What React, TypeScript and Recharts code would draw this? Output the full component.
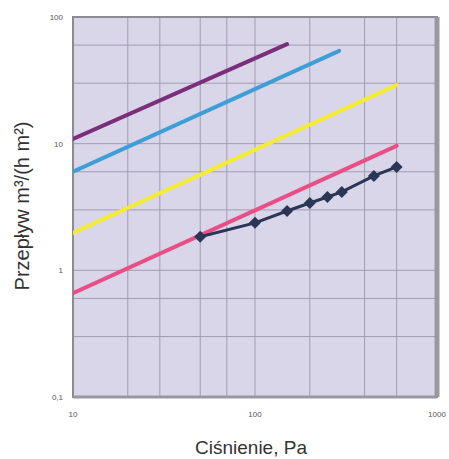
import React from 'react';
import { LineChart, Line, XAxis, YAxis, CartesianGrid, ReferenceLine, ReferenceArea } from 'recharts';

const xTicks = [10, 100, 1000];
const yTicks = [0.1, 1, 10, 100];
const yTickLabels: Record<string, string> = { '0.1': '0,1', '1': '1', '10': '10', '100': '100' };

const xGrid = [10, 20, 30, 40, 50, 60, 70, 80, 90, 100, 200, 300, 400, 500, 600, 700, 800, 900, 1000];
const yGrid = [0.1, 0.2, 0.3, 0.4, 0.5, 0.6, 0.7, 0.8, 0.9, 1, 2, 3, 4, 5, 6, 7, 8, 9, 10, 20, 30, 40, 50, 60, 70, 80, 90, 100];

const purple = [{ x: 10, y: 10.9 }, { x: 150, y: 61 }];
const blue = [{ x: 10, y: 6.0 }, { x: 290, y: 54 }];
const yellow = [{ x: 10, y: 1.97 }, { x: 600, y: 29 }];
const pink = [{ x: 10, y: 0.66 }, { x: 600, y: 9.6 }];

const measuredX = [50, 100, 150, 200, 250, 300, 450, 600];
const measuredY = [1.84, 2.37, 2.94, 3.4, 3.79, 4.16, 5.56, 6.55];
const measured = measuredX.map((x, i) => ({ x, y: measuredY[i] }));

const FONT = 'Liberation Sans, Arial, sans-serif';

const Diamond = (props: any) => {
  const { cx, cy } = props;
  if (cx == null || cy == null) return null;
  const r = 6;
  return (
    <path
      d={`M${cx},${cy - r}L${cx + r},${cy}L${cx},${cy + r}L${cx - r},${cy}Z`}
      fill="#2b3656"
      stroke="none"
    />
  );
};

export default function App() {
  return (
    <div style={{ position: 'absolute', left: 0, top: 0, width: 449, height: 459, background: '#fff' }}>
      <LineChart
        width={449}
        height={459}
        margin={{ top: 17, right: 12, bottom: 0, left: 0 }}
      >
        <CartesianGrid
          fill="#dad6ea"
          stroke="#a29bb3"
          strokeWidth={1}
          horizontalValues={yGrid}
          verticalValues={xGrid}
        />
        <XAxis
          type="number"
          dataKey="x"
          scale="log"
          domain={[10, 1000]}
          ticks={xTicks}
          allowDataOverflow
          axisLine={false}
          tickLine={false}
          tickSize={0}
          tickMargin={14}
          height={62}
          tick={{ fontSize: 8, fill: '#555', fontFamily: FONT }}
          label={{
            content: () => (
              <text x={251} y={454} textAnchor="middle" fontSize={19} fill="#333" fontFamily={FONT}>
                Ciśnienie, Pa
              </text>
            ),
          }}
        />
        <YAxis
          type="number"
          dataKey="y"
          scale="log"
          domain={[0.1, 100]}
          ticks={yTicks}
          allowDataOverflow
          axisLine={false}
          tickLine={false}
          tickSize={0}
          tickMargin={10}
          width={73}
          tickFormatter={(v: number) => yTickLabels[String(v)] ?? String(v)}
          tick={{ fontSize: 8, fill: '#555', fontFamily: FONT }}
          label={{
            content: () => (
              <text
                x={29}
                y={206}
                transform="rotate(-90 29 206)"
                textAnchor="middle"
                fontSize={20}
                fill="#333"
                fontFamily={FONT}
              >
                Przepływ m³/(h m²)
              </text>
            ),
          }}
        />
        <ReferenceArea x1={10} x2={1000} y1={0.1} y2={100} fill="none" stroke="#8c8a92" strokeWidth={2} />
        <ReferenceLine x={1000} stroke="#9a979f" strokeWidth={5} />
        <ReferenceLine y={0.1} stroke="#9a979f" strokeWidth={3} />
        <Line data={purple} dataKey="y" stroke="#7b2f7a" strokeWidth={4} dot={false} strokeLinecap="round" isAnimationActive={false} />
        <Line data={blue} dataKey="y" stroke="#3d9fd5" strokeWidth={4} dot={false} strokeLinecap="round" isAnimationActive={false} />
        <Line data={yellow} dataKey="y" stroke="#f3ec32" strokeWidth={4} dot={false} strokeLinecap="round" isAnimationActive={false} />
        <Line data={pink} dataKey="y" stroke="#e94f86" strokeWidth={4} dot={false} strokeLinecap="round" isAnimationActive={false} />
        <Line data={measured} dataKey="y" stroke="#2b3656" strokeWidth={3} dot={<Diamond />} activeDot={false} isAnimationActive={false} />
      </LineChart>
    </div>
  );
}
